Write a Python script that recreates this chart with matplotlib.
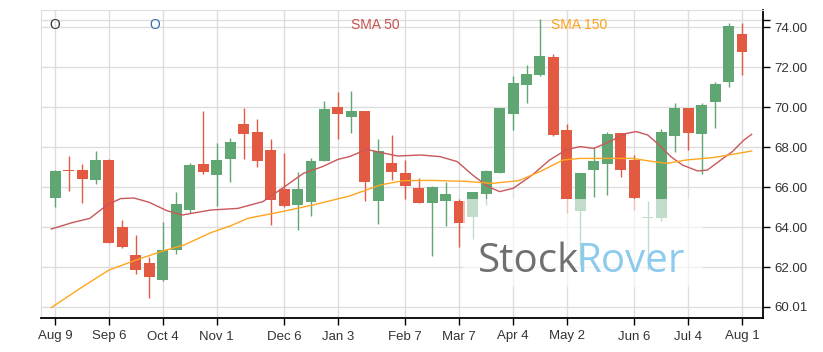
import matplotlib
matplotlib.use("Agg")
import matplotlib.pyplot as plt
import matplotlib.dates as mdates
from matplotlib.patches import Rectangle
import pandas as pd
import numpy as np

plt.rcParams['font.family'] = ['Liberation Sans', 'DejaVu Sans']

# weekly candles (Monday of each week)
weeks = pd.date_range('2021-08-09', periods=52, freq='7D')

opens = [65.47, 66.87, 66.85, 66.37, 67.35, 64.00, 62.60, 62.20, 61.35, 62.85,
         64.87, 67.15, 66.62, 67.38, 69.15, 68.75, 67.85, 65.90, 65.12, 65.27,
         67.32, 69.98, 69.52, 69.80, 65.32, 67.20, 66.70, 65.95, 65.22, 65.32,
         65.30, 64.52, 65.67, 66.72, 69.67, 71.12, 71.62, 72.50, 68.85, 64.78,
         66.87, 67.17, 68.68, 67.35, 64.45, 64.43, 68.55, 69.95, 68.67, 70.27,
         71.27, 73.65]
highs = [66.85, 67.55, 67.15, 67.80, 67.38, 64.35, 63.58, 62.52, 64.27, 65.77,
         67.18, 69.80, 68.18, 68.43, 69.95, 69.40, 68.38, 67.68, 66.77, 67.47,
         70.28, 70.73, 70.78, 69.82, 68.38, 68.58, 67.33, 66.45, 66.05, 66.23,
         65.38, 65.77, 66.85, 69.97, 71.53, 72.08, 74.38, 72.67, 69.13, 66.72,
         67.97, 68.73, 68.70, 67.62, 65.32, 68.90, 70.18, 69.97, 70.18, 71.27,
         74.18, 74.18]
lows = [65.00, 65.78, 65.22, 66.13, 63.20, 62.93, 61.67, 60.43, 61.30, 62.65,
        64.68, 66.63, 65.07, 66.27, 67.38, 67.02, 64.10, 65.00, 63.85, 64.55,
        67.30, 68.38, 68.68, 65.32, 64.13, 66.33, 65.38, 65.20, 62.55, 64.05,
        62.98, 63.38, 65.10, 66.70, 68.85, 70.18, 71.55, 68.55, 64.72, 62.10,
        65.48, 65.58, 66.52, 64.85, 61.85, 64.32, 67.75, 67.85, 66.63, 68.93,
        70.98, 71.58]
closes = [66.80, 66.78, 66.42, 67.35, 63.22, 63.02, 61.87, 61.52, 62.85, 65.15,
          67.10, 66.77, 67.35, 68.25, 68.67, 67.32, 65.37, 65.07, 65.90, 67.30,
          69.90, 69.67, 69.80, 66.27, 67.80, 66.77, 66.07, 65.22, 66.00, 65.65,
          64.22, 65.75, 66.80, 69.95, 71.20, 71.65, 72.55, 68.60, 65.42, 66.70,
          67.30, 68.65, 66.87, 65.47, 64.50, 68.75, 69.95, 68.72, 70.10, 71.15,
          74.05, 72.77]

sma50_dates = ['2021-08-07', '2021-08-18', '2021-08-27', '2021-09-05', '2021-09-12',
               '2021-09-19', '2021-09-27', '2021-10-06', '2021-10-14', '2021-10-29',
               '2021-11-12', '2021-11-25', '2021-12-05', '2021-12-16', '2021-12-26',
               '2022-01-03', '2022-01-09', '2022-01-18', '2022-01-23', '2022-02-03',
               '2022-02-15', '2022-02-25', '2022-03-06', '2022-03-14', '2022-03-22',
               '2022-03-28', '2022-04-04', '2022-04-14', '2022-04-23', '2022-05-02',
               '2022-05-09', '2022-05-16', '2022-05-23', '2022-06-02', '2022-06-07',
               '2022-06-13', '2022-06-18', '2022-06-25', '2022-07-01', '2022-07-09',
               '2022-07-14', '2022-07-21', '2022-07-27', '2022-08-02', '2022-08-06']
sma50 = [63.90, 64.22, 64.43, 65.10, 65.42, 65.45, 65.23, 64.82, 64.60, 64.85,
         64.93, 65.27, 65.93, 66.68, 67.02, 67.38, 67.52, 67.88, 67.77, 67.55,
         67.60, 67.52, 67.27, 66.60, 66.02, 65.77, 65.93, 66.60, 67.35, 67.88,
         68.02, 67.93, 68.22, 68.68, 68.77, 68.60, 68.18, 67.52, 67.10, 66.80,
         66.85, 67.35, 67.77, 68.35, 68.63]

sma150_dates = ['2021-08-07', '2021-08-22', '2021-09-06', '2021-09-21', '2021-10-04',
                '2021-10-15', '2021-10-29', '2021-11-08', '2021-11-17', '2021-12-05',
                '2021-12-21', '2022-01-09', '2022-01-25', '2022-02-06', '2022-02-21',
                '2022-03-11', '2022-03-24', '2022-04-07', '2022-04-18', '2022-04-30',
                '2022-05-09', '2022-06-05', '2022-06-16', '2022-06-23', '2022-07-03',
                '2022-07-17', '2022-07-27', '2022-08-06']
sma150 = [59.97, 60.93, 61.85, 62.38, 62.80, 63.10, 63.72, 64.05, 64.43, 64.77,
          65.10, 65.55, 66.10, 66.32, 66.33, 66.28, 66.18, 66.32, 66.77, 67.35,
          67.43, 67.43, 67.27, 67.18, 67.35, 67.47, 67.63, 67.80]

tick_dates = ['2021-08-09', '2021-09-06', '2021-10-04', '2021-11-01', '2021-12-06',
              '2022-01-03', '2022-02-07', '2022-03-07', '2022-04-04', '2022-05-02',
              '2022-06-06', '2022-07-04', '2022-08-01']
tick_labels = ['Aug 9', 'Sep 6', 'Oct 4', 'Nov 1', 'Dec 6', 'Jan 3', 'Feb 7',
               'Mar 7', 'Apr 4', 'May 2', 'Jun 6', 'Jul 4', 'Aug 1']
y_ticks = [60.01, 62, 64, 66, 68, 70, 72, 74]

GREEN = '#5fa673'
RED = '#e35a42'

fig = plt.figure(figsize=(8.23, 3.52), dpi=100)
ax = fig.add_axes([41/823, 1 - 318/352, (763 - 41)/823, (318 - 10)/352])

x = mdates.date2num(weeks)
o = np.array(opens); c = np.array(closes)
colors = [GREEN if cc >= oo else RED for oo, cc in zip(o, c)]
bottoms = np.minimum(o, c)
heights = np.maximum(np.abs(c - o), 0.06)

ax.vlines(x, lows, highs, colors=colors, linewidth=1.0, zorder=3)
ax.bar(x, heights, bottom=bottoms, width=5.7, color=colors, zorder=4, linewidth=0)

ax.plot(mdates.date2num(pd.to_datetime(sma50_dates)), sma50, color='#c9575a',
        linewidth=1.0, zorder=5)
ax.plot(mdates.date2num(pd.to_datetime(sma150_dates)), sma150, color='#ffa51f',
        linewidth=1.0, zorder=5)

# pixel column -> date number (reference: Aug 9 at px 55, ~1.924 px per day)
def px2x(px):
    return mdates.date2num(pd.Timestamp('2021-08-09')) + (px - 55) / 1.924

# watermark
ax.add_patch(Rectangle((px2x(463), 61.0), px2x(703) - px2x(463), 65.4 - 61.0,
                       facecolor='white', alpha=0.62, edgecolor='none', zorder=6))
ax.text(px2x(478), 61.75, 'Stock', color='#707070', fontsize=29,
        family=['Open Sans', 'DejaVu Sans'], zorder=7, va='baseline')
ax.text(px2x(576), 61.75, 'Rover', color='#8ccbee', fontsize=29,
        family=['Open Sans', 'DejaVu Sans'], zorder=7, va='baseline')

ax.set_xlim(mdates.date2num(pd.Timestamp('2021-08-01 16:00')),
            mdates.date2num(pd.Timestamp('2022-08-11 22:00')))
ax.set_ylim(59.45, 74.85)

ax.set_xticks(mdates.date2num(pd.to_datetime(tick_dates)))
ax.set_xticklabels(tick_labels)
ax.yaxis.tick_right()
ax.set_yticks(y_ticks)
ax.set_yticklabels(['%.2f' % v for v in y_ticks])
ax.set_yticks([74.35], minor=True)
ax.tick_params(axis='y', which='minor', length=5, width=1, color='black', direction='out')
ax.tick_params(axis='both', which='major', labelsize=9.5, labelcolor='#333333',
               length=5, width=1, color='black', direction='out')
ax.tick_params(axis='x', pad=4)

ax.grid(True, which='both', color='#dddddd', linewidth=1, zorder=0)
ax.set_axisbelow(True)

for s in ['top', 'left']:
    ax.spines[s].set_color('#dddddd')
ax.spines['bottom'].set_color('black')
ax.spines['right'].set_color('black')
ax.spines['bottom'].set_linewidth(1.3)
ax.spines['right'].set_linewidth(1.3)

ty = 0.951
xt = ax.get_xaxis_transform()
ax.text(px2x(55), ty, 'O', transform=xt, color='#333333', fontsize=10,
        ha='center', va='center')
ax.text(px2x(155), ty, 'O', transform=xt, color='#2f6ea8', fontsize=10,
        ha='center', va='center')
ax.text(px2x(375), ty, 'SMA 50', transform=xt, color='#c9514f', fontsize=10,
        ha='center', va='center')
ax.text(px2x(579), ty, 'SMA 150', transform=xt, color='#ffa21a', fontsize=10,
        ha='center', va='center')

fig.savefig('out.png', dpi=100)
